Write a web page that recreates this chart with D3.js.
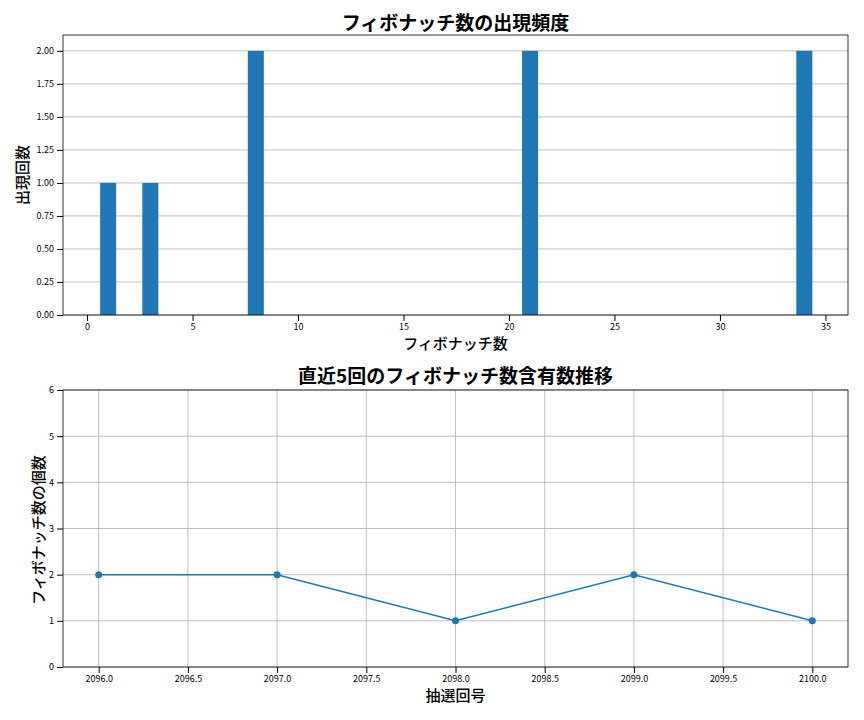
<!DOCTYPE html>
<html><head><meta charset="utf-8">
<script src="https://cdn.jsdelivr.net/npm/d3@7"></script>
<style>body{margin:0;background:#fff}text{font-family:"Noto Sans CJK JP","Noto Sans",sans-serif}</style>
</head><body><svg id="c" width="864" height="720"></svg>
<script>
const fibNumbers=[1,3,8,21,34];
const fibCounts=[1,1,2,2,2];
const draws=[2096,2097,2098,2099,2100];
const drawCounts=[2,2,1,2,1];
const topYTicks=[0,0.25,0.5,0.75,1,1.25,1.5,1.75,2];
const topXTicks=[0,5,10,15,20,25,30,35];
const botXTicks=[2096,2096.5,2097,2097.5,2098,2098.5,2099,2099.5,2100];
const botYTicks=[0,1,2,3,4,5,6];
const blue="#1f77b4";
const svg=d3.select("#c");
const L=63,R=848;
const x1=d3.scaleLinear().domain([-1.14,36.07]).range([L,R]);
const y1=d3.scaleLinear().domain([0,2.12]).range([315,35]);
const g1=svg.append("g");
g1.selectAll(".gy").data(topYTicks).join("line").attr("x1",L).attr("x2",R).attr("y1",d=>y1(d)).attr("y2",d=>y1(d)).attr("stroke","#b0b0b0").attr("stroke-width",0.8);
g1.selectAll("rect").data(fibNumbers).join("rect").attr("x",(d)=>x1(d-0.38)).attr("width",x1(0.76)-x1(0)).attr("y",(d,i)=>y1(fibCounts[i])).attr("height",(d,i)=>y1(0)-y1(fibCounts[i])).attr("fill",blue);
g1.append("g").attr("transform","translate(0,315)").call(d3.axisBottom(x1).tickValues(topXTicks).tickFormat(d3.format("d")).tickSizeOuter(0));
g1.append("g").attr("transform",`translate(${L},0)`).call(d3.axisLeft(y1).tickValues(topYTicks).tickFormat(d3.format(".2f")).tickSizeOuter(0));
g1.append("rect").attr("x",L).attr("y",35).attr("width",R-L).attr("height",280).attr("fill","none").attr("stroke","#000").attr("stroke-width",0.8);
svg.append("text").attr("x",(L+R)/2).attr("y",30).attr("text-anchor","middle").attr("font-size",19).attr("font-weight","bold").text("フィボナッチ数の出現頻度");
svg.append("text").attr("x",(L+R)/2).attr("y",349).attr("text-anchor","middle").attr("font-size",15).attr("font-weight",500).text("フィボナッチ数");
svg.append("text").attr("transform","translate(28,175) rotate(-90)").attr("text-anchor","middle").attr("font-size",15).attr("font-weight",500).text("出現回数");
const x2=d3.scaleLinear().domain([2095.8,2100.2]).range([L,R]);
const y2=d3.scaleLinear().domain([0,6]).range([667,390]);
const g2=svg.append("g");
g2.selectAll(".gy").data(botYTicks).join("line").attr("x1",L).attr("x2",R).attr("y1",d=>y2(d)).attr("y2",d=>y2(d)).attr("stroke","#b0b0b0").attr("stroke-width",0.8);
g2.selectAll(".gx").data(botXTicks).join("line").attr("y1",390).attr("y2",667).attr("x1",d=>x2(d)).attr("x2",d=>x2(d)).attr("stroke","#b0b0b0").attr("stroke-width",0.8);
const pts=draws.map((d,i)=>[x2(d),y2(drawCounts[i])]);
g2.append("path").attr("d",d3.line()(pts)).attr("fill","none").attr("stroke",blue).attr("stroke-width",1.5);
g2.selectAll("circle").data(pts).join("circle").attr("cx",d=>d[0]).attr("cy",d=>d[1]).attr("r",3.5).attr("fill",blue);
g2.append("g").attr("transform","translate(0,667)").call(d3.axisBottom(x2).tickValues(botXTicks).tickFormat(d3.format(".1f")).tickSizeOuter(0));
g2.append("g").attr("transform",`translate(${L},0)`).call(d3.axisLeft(y2).tickValues(botYTicks).tickFormat(d3.format("d")).tickSizeOuter(0));
g2.append("rect").attr("x",L).attr("y",390).attr("width",R-L).attr("height",277).attr("fill","none").attr("stroke","#000").attr("stroke-width",0.8);
svg.append("text").attr("x",(L+R)/2).attr("y",383).attr("text-anchor","middle").attr("font-size",19).attr("font-weight","bold").text("直近5回のフィボナッチ数含有数推移");
svg.append("text").attr("x",(L+R)/2).attr("y",701).attr("text-anchor","middle").attr("font-size",15).attr("font-weight",500).text("抽選回号");
svg.append("text").attr("transform","translate(44,530) rotate(-90)").attr("text-anchor","middle").attr("font-size",15).attr("font-weight",500).text("フィボナッチ数の個数");
svg.selectAll(".tick text").attr("font-size",9).attr("fill","#000");
svg.selectAll(".domain").remove();
</script></body></html>
